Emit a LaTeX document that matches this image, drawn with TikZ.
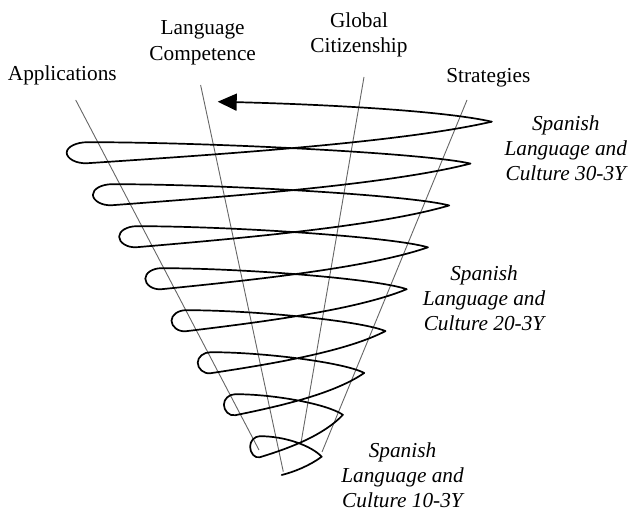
\documentclass[tikz,border=0pt]{standalone}
\usepackage{fontspec}
\setmainfont{Liberation Serif}
\usetikzlibrary{arrows.meta}
\begin{document}
\begin{tikzpicture}[x=1pt,y=-1pt,
  axisline/.style={draw=black!60, line width=0.9pt},
  spiral/.style={draw=black, line width=1.7pt, line join=round, line cap=round},
  toplabel/.style={font=\fontsize{21.3}{25.3}\selectfont, align=center, anchor=base, inner sep=0pt},
  levellabel/.style={font=\fontsize{21.3}{25}\selectfont\itshape, align=center, anchor=base, inner sep=0pt}]
\useasboundingbox (0,0) rectangle (629,510);

% labels (anchor = baseline of the last line)
\node[toplabel] (app) at (62.3,80.8) {Applications};
\node[toplabel] (lang) at (202.7,60.1) {Language\\Competence};
\node[toplabel] (glob) at (359,52.4) {Global\\Citizenship};
\node[toplabel] (strat) at (488.3,82.1) {Strategies};
\node[levellabel] (l30) at (565.8,180.8) {Spanish\\Language and\\Culture 30-3Y};
\node[levellabel] (l20) at (484,330.7) {Spanish\\Language and\\Culture 20-3Y};
\node[levellabel] (l10) at (402.5,507.4) {Spanish\\Language and\\Culture 10-3Y};

% strand lines
\coordinate (appT) at (75.7,100);   \coordinate (appB) at (259,450);
\coordinate (langT) at (200.6,85);  \coordinate (langB) at (283.3,471.7);
\coordinate (globT) at (364,77);    \coordinate (globB) at (300.8,444);
\coordinate (stratT) at (467,100);  \coordinate (stratB) at (322,452);
\draw[axisline] (appT) -- (appB);
\draw[axisline] (langT) -- (langB);
\draw[axisline] (globT) -- (globB);
\draw[axisline] (stratT) -- (stratB);

% spiral
\coordinate (R0) at (491.7,121.7);
\coordinate (tip) at (217.7,101.7);
\coordinate (bend) at (281.7,475);
\draw[spiral, -{Triangle[length=19pt,width=17pt]}] (R0) .. controls (445.7,111.1) and (330,104.5) .. (tip);
\draw[spiral] (R0)
  \foreach \k [evaluate=\k as \xL using 66.7+26.2*\k,
               evaluate=\k as \yL using 152.7+42*\k,
               evaluate=\k as \w using (425-47.45*\k)/425,
               evaluate=\k as \h using 21-1.6*\k,
               evaluate=\k as \xR using 491.7-21.25*\k,
               evaluate=\k as \yR using 121.7+41.875*\k] in {0,...,7} {
    .. controls ({\xR-90*\w},{\yR+20.7}) and ({\xL+\h+135*\w},{\yL+1.5}) .. ({\xL+\h},{\yL+10.5})
    .. controls ({\xL+0.45*\h},{\yL+10.5+0.55*\h*9/(135*\w)}) and ({\xL},{\yL+5.8}) .. ({\xL},{\yL})
    .. controls ({\xL},{\yL-5.8}) and ({\xL+0.45*\h},{\yL-10.5}) .. ({\xL+\h},{\yL-10.5})
    .. controls ({\xL+\h+120*\w},{\yL-10.5}) and ({\xR-21.25-46*\w},{\yR+41.875-10.6}) .. ({\xR-21.25},{\yR+41.875})
  }
  .. controls (309.7,465.7) and (293.7,472) .. (bend);
\end{tikzpicture}
\end{document}
